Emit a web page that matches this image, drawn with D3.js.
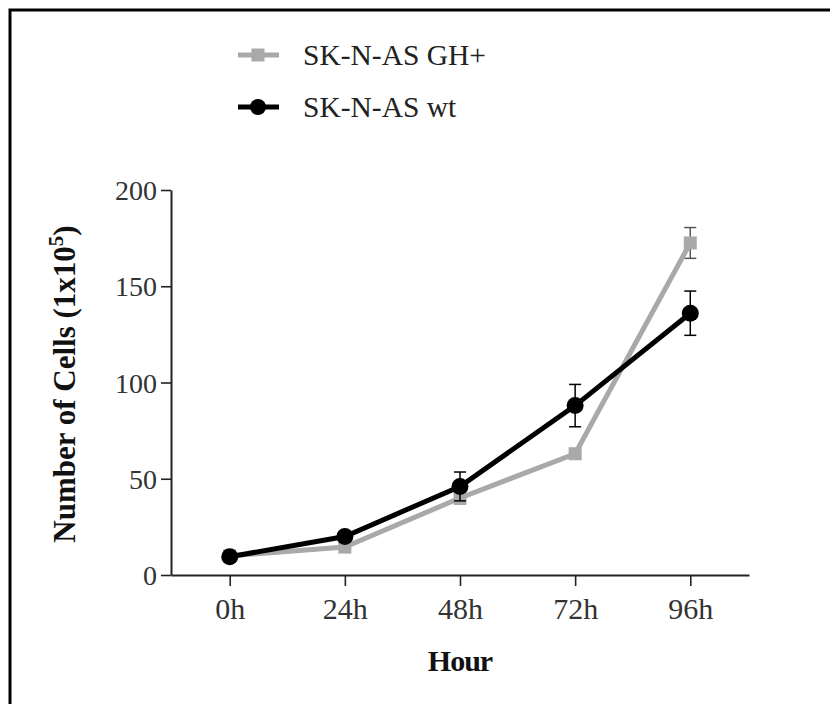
<!DOCTYPE html>
<html>
<head>
<meta charset="utf-8">
<script src="https://cdn.jsdelivr.net/npm/d3@7"></script>
<style>
  body { margin: 0; background: #fff; }
  svg { display: block; }
</style>
</head>
<body>
<div id="chart"></div>
<script>
// data
const hours = ["0h", "24h", "48h", "72h", "96h"];
const ghPlus = [10, 14.5, 40, 63, 172.5];
const ghPlusErr = [1, 1.5, 3, 2.5, 8];
const wildType = [9.5, 20, 46, 88, 136];
const wildTypeErr = [1, 1.5, 7.5, 11, 11.5];
const yTicks = [0, 50, 100, 150, 200];

const series = [
    {name: "SK-N-AS GH+", values: ghPlus, err: ghPlusErr, color: "#a9a9a9", errColor: "#555", shape: "square"},
    {name: "SK-N-AS wt", values: wildType, err: wildTypeErr, color: "#000", errColor: "#000", shape: "circle"}
];

const width = 830;
const height = 704;
const font = "'Liberation Serif', 'Times New Roman', serif";

const svg = d3.select("#chart")
    .append("svg")
    .attr("width", width)
    .attr("height", height)
    .style("font-family", font);

// frame around the figure
svg.append("rect")
    .attr("x", 10)
    .attr("y", 10)
    .attr("width", 900)
    .attr("height", 800)
    .attr("fill", "none")
    .attr("stroke", "#000")
    .attr("stroke-width", 3);

const x = d3.scalePoint()
    .domain(hours)
    .range([171, 749])
    .padding(0.51);

const y = d3.scaleLinear()
    .domain([0, 200])
    .range([575, 190]);

//////////////////////////////////////////////////////
// AXES
//////////////////////////////////////////////////////

const yAxis = svg.append("g")
    .attr("transform", "translate(171,0)")
    .call(d3.axisLeft(y).tickValues(yTicks).tickSize(10).tickSizeOuter(0).tickPadding(4));

const xAxis = svg.append("g")
    .attr("transform", "translate(0,575)")
    .call(d3.axisBottom(x).tickSize(11).tickSizeOuter(0).tickPadding(12));

[yAxis, xAxis].forEach(g => {
    g.select(".domain").attr("stroke", "#222").attr("stroke-width", 2);
    g.selectAll(".tick line").attr("stroke", "#222").attr("stroke-width", 1.6);
    g.selectAll(".tick text")
        .attr("fill", "#333")
        .style("font-family", font)
        .style("font-size", "28px");
});
yAxis.selectAll(".tick text").attr("dy", "0.34em");
xAxis.selectAll(".tick text").style("font-size", "30px").attr("dy", "0.7em");

// axis titles
svg.append("text")
    .attr("x", x("48h"))
    .attr("y", 671)
    .attr("text-anchor", "middle")
    .style("font-size", "30px")
    .style("font-weight", "bold")
    .style("letter-spacing", "-1px")
    .attr("fill", "#111")
    .text("Hour");

const yTitle = svg.append("text")
    .attr("transform", "translate(75,384) rotate(-90)")
    .attr("text-anchor", "middle")
    .style("font-size", "31px")
    .style("font-weight", "bold")
    .attr("fill", "#111");
yTitle.append("tspan").text("Number of Cells (1x10");
yTitle.append("tspan").attr("dy", -12).style("font-size", "21px").text("5");
yTitle.append("tspan").attr("dy", 12).text(")");

//////////////////////////////////////////////////////
// LINES, ERROR BARS, MARKERS
//////////////////////////////////////////////////////

const line = d3.line()
    .x((d, i) => x(hours[i]))
    .y(d => y(d));

series.forEach(s => {
    const g = svg.append("g");

    // error bars
    s.values.forEach((v, i) => {
        const cx = x(hours[i]);
        const top = y(v + s.err[i]);
        const bot = y(v - s.err[i]);
        g.append("line").attr("x1", cx).attr("x2", cx).attr("y1", top).attr("y2", bot)
            .attr("stroke", s.errColor).attr("stroke-width", 1.5);
        [top, bot].forEach(yy => {
            g.append("line").attr("x1", cx - 6).attr("x2", cx + 6).attr("y1", yy).attr("y2", yy)
                .attr("stroke", s.errColor).attr("stroke-width", 1.5);
        });
    });

    g.append("path")
        .datum(s.values)
        .attr("d", line)
        .attr("fill", "none")
        .attr("stroke", s.color)
        .attr("stroke-width", 5);

    s.values.forEach((v, i) => {
        const cx = x(hours[i]);
        if (s.shape === "circle") {
            g.append("circle").attr("cx", cx).attr("cy", y(v)).attr("r", 8.5).attr("fill", s.color);
        } else {
            g.append("rect").attr("x", cx - 6.5).attr("y", y(v) - 6.5)
                .attr("width", 13).attr("height", 13).attr("fill", s.color);
        }
    });
});

//////////////////////////////////////////////////////
// LEGEND
//////////////////////////////////////////////////////

const legendY = [55, 107];
series.forEach((s, i) => {
    const ly = legendY[i];
    svg.append("line")
        .attr("x1", 238).attr("x2", 279).attr("y1", ly).attr("y2", ly)
        .attr("stroke", s.color).attr("stroke-width", 5);
    if (s.shape === "circle") {
        svg.append("circle").attr("cx", 258).attr("cy", ly).attr("r", 8).attr("fill", s.color);
    } else {
        svg.append("rect").attr("x", 251.5).attr("y", ly - 6.5)
            .attr("width", 13).attr("height", 13).attr("fill", s.color);
    }
    svg.append("text")
        .attr("x", 303)
        .attr("y", ly + 10)
        .style("font-size", "29.5px")
        .attr("fill", "#222")
        .text(s.name);
});
</script>
</body>
</html>
